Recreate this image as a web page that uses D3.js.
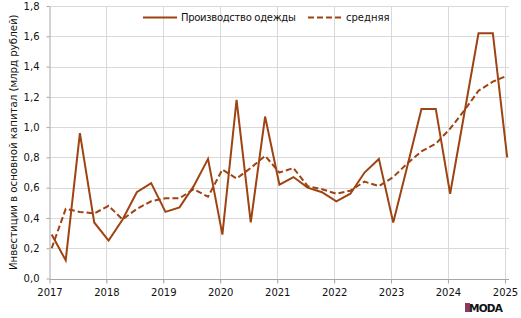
<!DOCTYPE html>
<html>
<head>
<meta charset="utf-8">
<script src="https://cdn.jsdelivr.net/npm/d3@7"></script>
<style>
  body { margin: 0; background: #fff; }
  text { font-family: "DejaVu Sans", Verdana, sans-serif; }
</style>
</head>
<body>
<div id="chart"></div>
<script>
// quarterly points (placed mid-month as on the original date axis)
const quarters = [
  "2017-01-15", "2017-04-15", "2017-07-15", "2017-10-15",
  "2018-01-15", "2018-04-15", "2018-07-15", "2018-10-15",
  "2019-01-15", "2019-04-15", "2019-07-15", "2019-10-15",
  "2020-01-15", "2020-04-15", "2020-07-15", "2020-10-15",
  "2021-01-15", "2021-04-15", "2021-07-15", "2021-10-15",
  "2022-01-15", "2022-04-15", "2022-07-15", "2022-10-15",
  "2023-01-15", "2023-04-15", "2023-07-15", "2023-10-15",
  "2024-01-15", "2024-04-15", "2024-07-15", "2024-10-15",
  "2025-01-15"
];
const production = [
  0.29, 0.12, 0.96, 0.37,
  0.25, 0.39, 0.57, 0.63,
  0.44, 0.47, 0.61, 0.79,
  0.29, 1.18, 0.37, 1.07,
  0.62, 0.67, 0.60, 0.57,
  0.51, 0.56, 0.70, 0.79,
  0.37, 0.74, 1.12, 1.12,
  0.56, 1.09, 1.62, 1.62,
  0.80
];
const average = [
  0.20, 0.46, 0.44, 0.43,
  0.48, 0.39, 0.46, 0.51,
  0.53, 0.53, 0.59, 0.54,
  0.72, 0.66, 0.73, 0.81,
  0.70, 0.73, 0.61, 0.59,
  0.56, 0.58, 0.64, 0.61,
  0.67, 0.76, 0.84, 0.89,
  0.99, 1.11, 1.24, 1.30,
  1.34
];
const yTicks = [0, 0.2, 0.4, 0.6, 0.8, 1.0, 1.2, 1.4, 1.6, 1.8];
const seriesNames = ["Производство одежды", "средняя"];
const yTitle = "Инвестиции в основной капитал (млрд рублей)";

const W = 521, H = 318;
const plot = { left: 49.5, right: 505, edge: 509, top: 6, bottom: 278.5 };
const color = "#9e4312";

const parse = d3.timeParse("%Y-%m-%d");
const dates = quarters.map(parse);

const svg = d3.select("#chart")
  .append("svg")
  .attr("width", W)
  .attr("height", H);

const x = d3.scaleTime()
  .domain([new Date(2017, 0, 1), new Date(2025, 0, 1)])
  .range([plot.left, plot.right]);

const y = d3.scaleLinear()
  .domain([0, 1.8])
  .range([plot.bottom, plot.top]);

const years = x.ticks(d3.timeYear.every(1));

// grid
svg.append("g")
  .selectAll("line")
  .data(yTicks.slice(1))
  .join("line")
  .attr("x1", plot.left).attr("x2", plot.edge)
  .attr("y1", d => Math.round(y(d)) + 0.5).attr("y2", d => Math.round(y(d)) + 0.5)
  .attr("stroke", "#d9d9d9");

svg.append("g")
  .selectAll("line")
  .data(years.slice(1))
  .join("line")
  .attr("x1", d => Math.round(x(d)) + 0.5).attr("x2", d => Math.round(x(d)) + 0.5)
  .attr("y1", plot.top).attr("y2", plot.bottom + 4)
  .attr("stroke", "#d9d9d9");

// axes
const xAxis = svg.append("g")
  .attr("transform", `translate(0,${Math.round(plot.bottom) + 0.5})`)
  .call(d3.axisBottom(x).tickValues(years).tickFormat(d3.timeFormat("%Y")).tickSize(4).tickSizeOuter(0));
xAxis.select(".domain").attr("stroke", "#a6a6a6").attr("d", `M${plot.left},0H${plot.edge}`);
xAxis.selectAll(".tick line").attr("stroke", "#a6a6a6");
xAxis.selectAll(".tick text")
  .attr("dy", "0.71em").attr("y", 9)
  .style("font-size", "10px").attr("fill", "#111");

const yAxis = svg.append("g")
  .attr("transform", `translate(${plot.left},0)`)
  .call(d3.axisLeft(y).tickValues(yTicks)
    .tickFormat(d => d3.format(".1f")(d).replace(".", ","))
    .tickSize(3).tickPadding(7).tickSizeOuter(0));
yAxis.select(".domain").attr("stroke", "#a6a6a6");
yAxis.selectAll(".tick line").attr("stroke", "#a6a6a6");
yAxis.selectAll(".tick text").style("font-size", "10px").attr("fill", "#111");

// y title
svg.append("text")
  .attr("transform", `translate(16.5,${(plot.top + plot.bottom) / 2}) rotate(-90)`)
  .attr("text-anchor", "middle")
  .style("font-size", "10.2px")
  .attr("fill", "#111")
  .text(yTitle);

// lines
const line = d3.line()
  .x((d, i) => x(dates[i]))
  .y(d => y(d));

svg.append("path")
  .datum(average)
  .attr("fill", "none")
  .attr("stroke", color)
  .attr("stroke-width", 2)
  .attr("stroke-dasharray", "6,3")
  .attr("d", line);

svg.append("path")
  .datum(production)
  .attr("fill", "none")
  .attr("stroke", color)
  .attr("stroke-width", 2)
  .attr("d", line);

// legend
const legend = svg.append("g");
legend.append("line")
  .attr("x1", 143).attr("x2", 177).attr("y1", 17.5).attr("y2", 17.5)
  .attr("stroke", color).attr("stroke-width", 2);
legend.append("text")
  .attr("x", 181).attr("y", 21)
  .style("font-size", "10px").style("letter-spacing", "-0.3px")
  .attr("fill", "#111")
  .text(seriesNames[0]);
legend.append("line")
  .attr("x1", 308).attr("x2", 342).attr("y1", 17.5).attr("y2", 17.5)
  .attr("stroke", color).attr("stroke-width", 2).attr("stroke-dasharray", "6,3");
legend.append("text")
  .attr("x", 346).attr("y", 21)
  .style("font-size", "10px")
  .attr("fill", "#111")
  .text(seriesNames[1]);

// watermark
svg.append("rect")
  .attr("x", 465).attr("y", 303).attr("width", 5).attr("height", 9)
  .attr("fill", "#8a3a5c");
svg.append("text")
  .attr("x", 469).attr("y", 312)
  .style("font-size", "10.5px").style("font-weight", "bold")
  .style("letter-spacing", "-0.8px")
  .attr("fill", "#111")
  .text("MODA");
</script>
</body>
</html>
